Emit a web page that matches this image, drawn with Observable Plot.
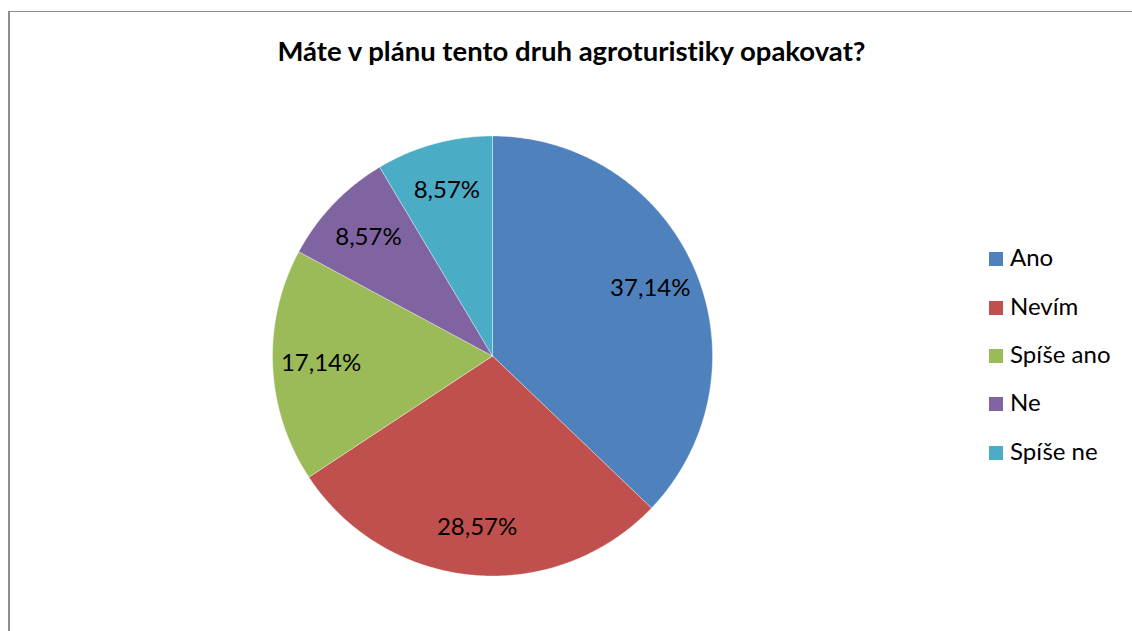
<!DOCTYPE html>
<html>
<head>
<meta charset="utf-8">
<script src="https://cdn.jsdelivr.net/npm/d3@7"></script>
<script src="https://cdn.jsdelivr.net/npm/@observablehq/plot@0.6"></script>
<style>
  html, body { margin: 0; padding: 0; background: #fff; }
  #wrap { position: relative; width: 1132px; height: 631px; overflow: hidden; font-family: Lato, "Open Sans", sans-serif; font-variant-ligatures: none; font-feature-settings: "liga" 0, "clig" 0; }
  #frame { position: absolute; left: 8px; top: 11px; width: 2000px; height: 2000px; border-left: 2px solid #8c8c8c; border-top: 1.5px solid #8c8c8c; }
  #title { position: absolute; left: 0; width: 1143px; top: 34px; text-align: center; font-weight: bold; font-size: 27.5px; line-height: normal; color: #000; white-space: nowrap; }
  #chart { position: absolute; left: 0; top: 0; }
  #legend { position: absolute; left: 989px; top: 243.4px; }
  .item { height: 48.3px; display: flex; align-items: flex-start; font-size: 24px; line-height: 28px; color: #000; white-space: nowrap; }
  .sw { width: 14px; height: 14px; margin-right: 7px; margin-top: 9px; flex: none; }
  svg text { font-variant-ligatures: none; }
</style>
</head>
<body>
<div id="wrap">
  <div id="frame"></div>
  <div id="title"></div>
  <div id="chart"></div>
  <div id="legend"></div>
</div>
<script>
const title = "Máte v plánu tento druh agroturistiky opakovat?";
const categories = ["Ano", "Nevím", "Spíše ano", "Ne", "Spíše ne"];
const values = [37.14, 28.57, 17.14, 8.57, 8.57];
const labels = ["37,14%", "28,57%", "17,14%", "8,57%", "8,57%"];
const colors = ["#4F81BD", "#C0504D", "#9BBB59", "#8064A2", "#4BACC6"];

document.getElementById("title").textContent = title;

const total = d3.sum(values);
// wedge outlines (angle clockwise from 12 o'clock), in unit-circle data coordinates
const wedges = [];
const labelPts = [];
let acc = 0;
categories.forEach((c, i) => {
  const a0 = acc / total * 2 * Math.PI;
  acc += values[i];
  const a1 = acc / total * 2 * Math.PI;
  wedges.push({key: c, px: 0, py: 0});
  const n = Math.max(2, Math.ceil((a1 - a0) / (Math.PI / 360)));
  for (let k = 0; k <= n; k++) {
    const a = a0 + (a1 - a0) * k / n;
    wedges.push({key: c, px: Math.sin(a), py: Math.cos(a)});
  }
  wedges.push({key: c, px: 0, py: 0});
  const m = (a0 + a1) / 2;
  labelPts.push({key: c, label: labels[i], px: 0.78 * Math.sin(m), py: 0.78 * Math.cos(m)});
});

const plot = Plot.plot({
  width: 1132,
  height: 631,
  margin: 0,
  style: {background: "transparent", overflow: "visible"},
  x: {domain: [-1, 1], range: [272, 712], axis: null},
  y: {domain: [-1, 1], range: [575.5, 135.5], axis: null},
  color: {domain: categories, range: colors},
  marks: [
    Plot.line(wedges, {x: "px", y: "py", z: "key", fill: "key", stroke: "#ffffff", strokeWidth: 0.6, strokeOpacity: 0.6, curve: "linear"}),
    Plot.text(labelPts, {x: "px", y: "py", text: "label", fill: "#000", fontSize: 24, fontFamily: "Lato, sans-serif"})
  ]
});
document.getElementById("chart").appendChild(plot);

const leg = document.getElementById("legend");
categories.forEach((c, i) => {
  const it = document.createElement("div");
  it.className = "item";
  const sw = document.createElement("div");
  sw.className = "sw";
  sw.style.background = colors[i];
  const tx = document.createElement("span");
  tx.textContent = c;
  it.appendChild(sw);
  it.appendChild(tx);
  leg.appendChild(it);
});
</script>
</body>
</html>
